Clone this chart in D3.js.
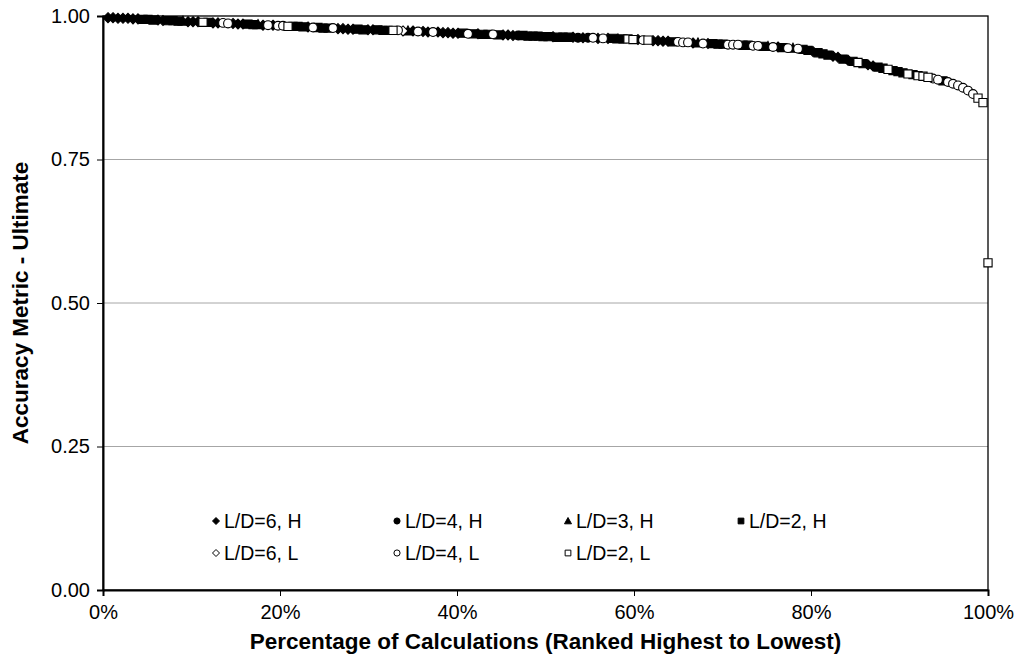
<!DOCTYPE html>
<html>
<head>
<meta charset="utf-8">
<script src="https://cdn.jsdelivr.net/npm/d3@7"></script>
<style>
  body { margin: 0; background: #fff; }
  svg { font-family: "Liberation Sans", Arial, sans-serif; }
</style>
</head>
<body>
<svg id="chart" width="1020" height="660"></svg>
<script>
// Series (legend order) and their one-letter codes used in the ranking below
const seriesNames = ["L/D=6, H", "L/D=4, H", "L/D=3, H", "L/D=2, H", "L/D=6, L", "L/D=4, L", "L/D=2, L"];
const seriesCodes = ["D", "C", "T", "S", "d", "c", "s"];

// Which series each calculation belongs to, ranked highest to lowest accuracy
const rankSeries = (
  "DDDDDDDSSSDDSSSTDDDsSDDccDDDSSTDcDc" +
  "csSSSDcSSScDDDDSSDDSSSscdTDcDDcDDDDD" +
  "ScSDSScSDDDCSSSSSSDSSSDCDCcDcDSTSssD" +
  "csDDDDScccDTcDSSScccSSccSTcDScTcSSDS" +
  "SSDDSDSsSDDSSsSSSsSssscc" + "Scccccc" + "sss"
).split("");

// Accuracy metric (ultimate) for each ranked calculation
const accuracy = [
  0.997, 0.997, 0.996, 0.996, 0.996, 0.995, 0.995, 0.994, 0.994, 0.993,
  0.993, 0.992, 0.992, 0.992, 0.991, 0.991, 0.990, 0.990, 0.990, 0.989,
  0.989, 0.988, 0.988, 0.988, 0.987, 0.987, 0.986, 0.986, 0.986, 0.985,
  0.985, 0.984, 0.984, 0.984, 0.983, 0.983, 0.982, 0.982, 0.982, 0.981,
  0.981, 0.980, 0.980, 0.979, 0.979, 0.979, 0.978, 0.978, 0.977, 0.977,
  0.977, 0.976, 0.976, 0.976, 0.976, 0.975, 0.975, 0.975, 0.975, 0.974,
  0.974, 0.974, 0.973, 0.973, 0.972, 0.972, 0.972, 0.971, 0.971, 0.970,
  0.970, 0.970, 0.969, 0.969, 0.969, 0.968, 0.968, 0.968, 0.967, 0.967,
  0.967, 0.966, 0.966, 0.966, 0.965, 0.965, 0.965, 0.964, 0.964, 0.964,
  0.963, 0.963, 0.963, 0.963, 0.962, 0.962, 0.962, 0.962, 0.961, 0.961,
  0.961, 0.961, 0.960, 0.960, 0.960, 0.959, 0.959, 0.958, 0.958, 0.957,
  0.957, 0.956, 0.956, 0.955, 0.955, 0.954, 0.954, 0.953, 0.953, 0.952,
  0.952, 0.952, 0.951, 0.951, 0.950, 0.950, 0.950, 0.949, 0.949, 0.948,
  0.948, 0.947, 0.947, 0.946, 0.946, 0.945, 0.944, 0.944, 0.943, 0.942,
  0.940, 0.938, 0.936, 0.934, 0.932, 0.930, 0.928, 0.925, 0.923, 0.921,
  0.919, 0.917, 0.915, 0.913, 0.911, 0.909, 0.907, 0.905, 0.903, 0.901,
  0.899, 0.898, 0.896, 0.895, 0.893, 0.891, 0.889, 0.887, 0.885, 0.882,
  0.879, 0.875, 0.870, 0.864, 0.857, 0.849, 0.570
];

const yTicks = [0, 0.25, 0.5, 0.75, 1];
const xTicks = [0, 0.2, 0.4, 0.6, 0.8, 1];
const xTitle = "Percentage of Calculations (Ranked Highest to Lowest)";
const yTitle = "Accuracy Metric - Ultimate";

const margin = { left: 103, right: 32, top: 16, bottom: 70 };
const W = 1020, H = 660;
const svg = d3.select("#chart");

const x = d3.scaleLinear().domain([0, 1]).range([margin.left, W - margin.right]);
const y = d3.scaleLinear().domain([0, 1]).range([H - margin.bottom, margin.top]);

// Horizontal gridlines
svg.append("g")
  .selectAll("line")
  .data(yTicks.filter(t => t > 0 && t < 1))
  .join("line")
  .attr("x1", x(0)).attr("x2", x(1))
  .attr("y1", d => y(d)).attr("y2", d => y(d))
  .attr("stroke", "#a6a6a6").attr("stroke-width", 1);

// Plot frame
svg.append("rect")
  .attr("x", x(0)).attr("y", y(1))
  .attr("width", x(1) - x(0)).attr("height", y(0) - y(1))
  .attr("fill", "none").attr("stroke", "#000").attr("stroke-width", 1.3);

// Axes
const yAxis = d3.axisLeft(y).tickValues(yTicks).tickFormat(d3.format(".2f")).tickSize(6).tickPadding(7);
const xAxis = d3.axisBottom(x).tickValues(xTicks).tickFormat(d3.format(".0%")).tickSize(6).tickPadding(9);

const gy = svg.append("g").attr("transform", `translate(${x(0)},0)`).call(yAxis);
const gx = svg.append("g").attr("transform", `translate(0,${y(0)})`).call(xAxis);
[gy, gx].forEach(g => {
  g.select(".domain").attr("stroke", "#000").attr("stroke-width", 2);
  g.selectAll(".tick line").attr("stroke", "#000");
  g.selectAll(".tick text").attr("fill", "#000").attr("font-size", 20)
    .attr("font-family", "'Liberation Sans', Arial, sans-serif");
});

// Marker shapes
function markerPath(code, k) {
  switch (code.toLowerCase()) {
    case "d": { const r = 5 * k; return `M0,${-r}L${r},0L0,${r}L${-r},0Z`; }
    case "c": return d3.symbol(d3.symbolCircle, Math.PI * (4.4 * k) ** 2)();
    case "t": { const r = 5 * k; return `M0,${-r}L${r},${r * 0.8}L${-r},${r * 0.8}Z`; }
    case "s": { const h = 4.1 * k; return `M${-h},${-h}H${h}V${h}H${-h}Z`; }
  }
}
function isOpen(code) { return code === code.toLowerCase(); }

// Points, grouped by series
const N = rankSeries.length;
const points = rankSeries.map((code, i) => ({ code, pct: (i + 1) / N, value: accuracy[i] }));

seriesCodes.forEach(code => {
  svg.append("g")
    .selectAll("path")
    .data(points.filter(p => p.code === code))
    .join("path")
    .attr("transform", p => `translate(${x(p.pct)},${y(p.value)})`)
    .attr("d", markerPath(code, 1))
    .attr("fill", isOpen(code) ? "#fff" : "#000")
    .attr("stroke", "#000")
    .attr("stroke-width", 1.1);
});

// Legend inside the plot
const legendCols = [216, 397, 568, 741];
const legendRows = [521, 553];
const legend = svg.append("g");
seriesNames.forEach((name, i) => {
  const code = seriesCodes[i];
  const col = i < 4 ? i : i - 4;
  const row = i < 4 ? 0 : 1;
  const g = legend.append("g").attr("transform", `translate(${legendCols[col]},${legendRows[row]})`);
  g.append("path")
    .attr("d", markerPath(code, 0.7))
    .attr("fill", isOpen(code) ? "#fff" : "#000")
    .attr("stroke", "#000").attr("stroke-width", 1);
  g.append("text")
    .attr("x", 8).attr("y", 7)
    .attr("font-size", 19.5)
    .attr("fill", "#000")
    .text(name);
});

// Axis titles
svg.append("text")
  .attr("x", (x(0) + x(1)) / 2).attr("y", 649)
  .attr("text-anchor", "middle")
  .attr("font-size", 22.5).attr("font-weight", "bold")
  .text(xTitle);

svg.append("text")
  .attr("transform", `translate(28,${(y(0) + y(1)) / 2}) rotate(-90)`)
  .attr("text-anchor", "middle")
  .attr("font-size", 22.5).attr("font-weight", "bold")
  .text(yTitle);
</script>
</body>
</html>
